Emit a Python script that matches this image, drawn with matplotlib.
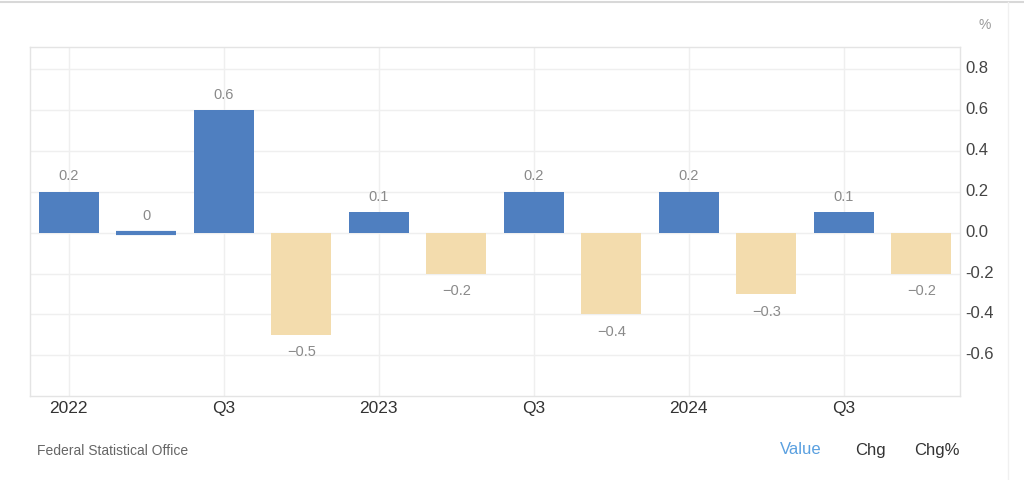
import numpy as np
import matplotlib.pyplot as plt
import matplotlib.transforms as mtransforms
from matplotlib.lines import Line2D

plt.rcParams['font.family'] = ['Liberation Sans', 'DejaVu Sans']
plt.rcParams['axes.unicode_minus'] = False

##########################################
# data
quarters = ['2022 Q1', '2022 Q2', '2022 Q3', '2022 Q4',
            '2023 Q1', '2023 Q2', '2023 Q3', '2023 Q4',
            '2024 Q1', '2024 Q2', '2024 Q3', '2024 Q4']
values = [0.2, 0.0, 0.6, -0.5, 0.1, -0.2, 0.2, -0.4, 0.2, -0.3, 0.1, -0.2]
tick_pos = [0, 2, 4, 6, 8, 10]
tick_labels = ['2022', 'Q3', '2023', 'Q3', '2024', 'Q3']
yticks = [-0.6, -0.4, -0.2, 0.0, 0.2, 0.4, 0.6, 0.8]

blue = '#4f7fc0'
beige = '#f3dcad'

##########################################
# plotting
fig = plt.figure(figsize=(10.24, 4.81), dpi=100)
ax = fig.add_axes([30/1024, 1 - 397/481, 930/1024, 349/481])

x = np.arange(len(values))
cols = [blue if v >= 0 else beige for v in values]
bars = ax.bar(x, values, width=0.77, color=cols, zorder=3)
# zero-value bar still shows as a thin line
for b, v, c in zip(bars, values, cols):
    if v == 0:
        b.set_edgecolor(c)
        b.set_linewidth(3)

for xi, v in zip(x, values):
    if v > 0:
        txt = f'{v:.1f}'
        ax.annotate(txt, (xi, v), xytext=(0, 12), textcoords='offset points',
                    ha='center', va='center', fontsize=10.5, color='#8a8a8a')
    elif v == 0:
        ax.annotate('0', (xi, v), xytext=(0, 13), textcoords='offset points',
                    ha='center', va='center', fontsize=10.5, color='#8a8a8a')
    else:
        txt = '\u2212' + f'{abs(v):.1f}'
        ax.annotate(txt, (xi, v), xytext=(0, -12), textcoords='offset points',
                    ha='center', va='center', fontsize=10.5, color='#8a8a8a')

ax.set_xlim(-0.5, 11.5)
ax.set_ylim(-0.80, 0.91)

ax.set_xticks(tick_pos)
ax.set_xticklabels(tick_labels, fontsize=12.5, color='#333333')
ax.set_yticks(yticks)
ax.set_yticklabels([f'{t:.1f}' for t in yticks], fontsize=12, color='#444444')
ax.yaxis.tick_right()
ax.tick_params(axis='both', length=0)
ax.tick_params(axis='x', pad=3)
ax.tick_params(axis='y', pad=4)

# y labels sit a little above their gridlines
shift = mtransforms.ScaledTranslation(0, 3/100, fig.dpi_scale_trans)
for lab in ax.get_yticklabels():
    lab.set_transform(lab.get_transform() + shift)

ax.grid(True, color='#efefef', linewidth=1, zorder=0)
for s in ax.spines.values():
    s.set_color('#e4e4e4')
    s.set_linewidth(1)

fig.text(985/1024, 1 - 25/481, '%', ha='center', va='center', fontsize=10, color='#999999')
fig.text(37/1024, 1 - 451/481, 'Federal Statistical Office', ha='left', va='center',
         fontsize=10, color='#666666')
fig.text(780/1024, 1 - 450/481, 'Value', ha='left', va='center', fontsize=12, color='#5aa0e0')
fig.text(855/1024, 1 - 450/481, 'Chg', ha='left', va='center', fontsize=12, color='#333333')
fig.text(914/1024, 1 - 450/481, 'Chg%', ha='left', va='center', fontsize=12, color='#333333')

# faint page edges
fig.add_artist(Line2D([0, 1], [1 - 3/481, 1 - 3/481], color='#d8d8d8', lw=1.5))
fig.add_artist(Line2D([1008/1024, 1008/1024], [0, 1 - 3/481], color='#f0f0f0', lw=1))

plt.savefig('out.png', dpi=100)
